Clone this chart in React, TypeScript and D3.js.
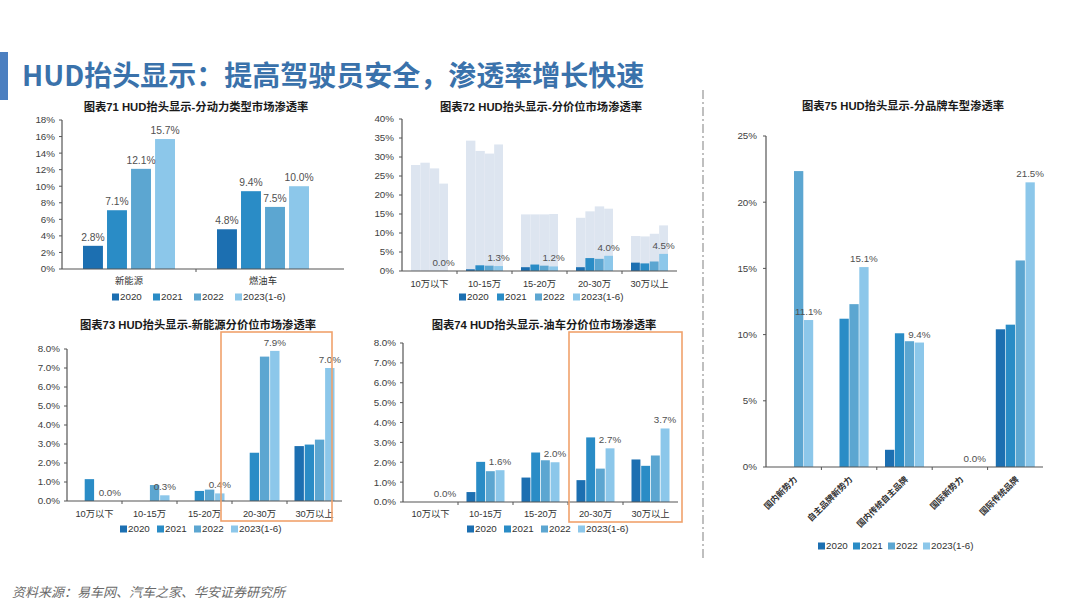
import React from 'react';
import * as d3 from 'd3';

// ---------- data ----------
const SERIES = ['2020', '2021', '2022', '2023(1-6)'];
const COLORS = ['#1c6fb1', '#2a8cc6', '#5ca6d1', '#8cc7ea'];

const c71Cats = ['新能源', '燃油车'];
const c71_2020 = [2.8, 4.8];
const c71_2021 = [7.1, 9.4];
const c71_2022 = [12.1, 7.5];
const c71_2023 = [15.7, 10.0];
const c71Ticks = [0, 2, 4, 6, 8, 10, 12, 14, 16, 18];

const priceCats = ['10万以下', '10-15万', '15-20万', '20-30万', '30万以上'];

const c72_2020 = [0, 0.45, 1.0, 1.0, 2.2];
const c72_2021 = [0, 1.5, 1.7, 3.4, 2.0];
const c72_2022 = [0, 1.4, 1.4, 3.2, 2.5];
const c72_2023 = [0.0, 1.3, 1.2, 4.0, 4.5];
const c72Bg_2020 = [27.9, 34.3, 14.9, 14.0, 9.2];
const c72Bg_2021 = [28.5, 31.6, 14.9, 15.7, 9.1];
const c72Bg_2022 = [27.0, 30.9, 14.9, 17.0, 9.8];
const c72Bg_2023 = [23.0, 33.3, 15.0, 16.4, 12.0];
const c72Ticks = [0, 5, 10, 15, 20, 25, 30, 35, 40];

const c73_2020 = [0, 0, 0, 0, 2.89];
const c73_2021 = [1.15, 0, 0.53, 2.54, 2.97];
const c73_2022 = [0, 0.84, 0.6, 7.6, 3.23];
const c73_2023 = [0.0, 0.3, 0.4, 7.9, 7.0];

const c74_2020 = [0, 0.5, 1.23, 1.1, 2.14];
const c74_2021 = [0, 2.02, 2.49, 3.25, 1.82];
const c74_2022 = [0, 1.55, 2.1, 1.68, 2.34];
const c74_2023 = [0.0, 1.6, 2.0, 2.7, 3.7];
const c7374Ticks = [0, 1, 2, 3, 4, 5, 6, 7, 8];

const c75Cats = ['国内新势力', '自主品牌新势力', '国内传统自主品牌', '国际新势力', '国际传统品牌'];
const c75_2020 = [0, 0, 1.3, 0, 10.4];
const c75_2021 = [0, 11.2, 10.1, 0, 10.75];
const c75_2022 = [22.35, 12.3, 9.5, 0, 15.6];
const c75_2023 = [11.1, 15.1, 9.4, 0.0, 21.5];
const c75Ticks = [0, 5, 10, 15, 20, 25];

// ---------- styles ----------
const FONT = "'Liberation Sans', Arial, 'Noto Sans CJK SC', sans-serif";
const CJK = "'Noto Sans CJK SC', sans-serif";

type ChartProps = {
  title: string;
  titleX: number;
  titleY: number;
  x0: number;
  x1: number;
  yTop: number;
  yBottom: number;
  yMax: number;
  ticks: number[];
  tickFmt: (v: number) => string;
  cats: string[];
  series: number[][];
  labelAll?: boolean;
  labelSize?: number;
  bg?: number[][];
  groupW: number;
  innerPad: number;
  catLabelY: number;
  rotate?: boolean;
  legendX: number;
  legendY: number;
  legendStep: number;
  axisExtend?: number;
  tickLabelGap?: number;
  box?: { fromCat: number; dx0: number; dx1: number; y0: number; y1: number };
};

function BarChart(p: ChartProps) {
  const x = d3.scaleBand<string>().domain(p.cats).range([p.x0, p.x1]).padding(0);
  const bw = x.bandwidth();
  const inner = d3
    .scaleBand<number>()
    .domain(d3.range(p.series.length))
    .range([(bw - p.groupW) / 2, (bw + p.groupW) / 2])
    .paddingInner(p.innerPad);
  const y = d3.scaleLinear().domain([0, p.yMax]).range([p.yBottom, p.yTop]);
  const gap = p.tickLabelGap ?? 7;

  return (
    <g>
      <text
        x={p.titleX}
        y={p.titleY}
        textAnchor="middle"
        fontFamily={FONT}
        fontWeight="bold"
        fontSize={11.3}
        fill="#1a1a1a"
      >
        {p.title}
      </text>

      {/* background bars */}
      {p.bg &&
        p.bg.map((vals, si) =>
          vals.map((v, ci) => {
            const bx = (x(p.cats[ci]) as number) + (inner(si) as number);
            const w = si < p.bg!.length - 1 ? inner.step() : inner.bandwidth();
            return (
              <rect
                key={`bg${si}-${ci}`}
                x={bx}
                y={y(v)}
                width={w}
                height={y(0) - y(v)}
                fill="#dde5f0"
              />
            );
          })
        )}

      {/* bars */}
      {p.series.map((vals, si) =>
        vals.map((v, ci) => {
          const bx = (x(p.cats[ci]) as number) + (inner(si) as number);
          return (
            <rect
              key={`b${si}-${ci}`}
              x={bx}
              y={y(v)}
              width={inner.bandwidth()}
              height={Math.max(0, y(0) - y(v))}
              fill={COLORS[si]}
            />
          );
        })
      )}

      {/* value labels */}
      {p.series.map((vals, si) =>
        p.labelAll || si === p.series.length - 1
          ? vals.map((v, ci) => (
              <text
                key={`l${si}-${ci}`}
                x={(x(p.cats[ci]) as number) + (inner(si) as number) + inner.bandwidth() / 2}
                y={y(v) - 5}
                textAnchor="middle"
                fontFamily={FONT}
                fontSize={p.labelSize ?? 9.8}
                fill="#505050"
              >
                {v.toFixed(1) + '%'}
              </text>
            ))
          : null
      )}

      {/* y axis */}
      <line x1={p.x0} x2={p.x0} y1={p.yTop} y2={p.yBottom} stroke="#555" strokeWidth={1.2} />
      {p.ticks.map((t) => (
        <g key={`t${t}`}>
          <line x1={p.x0 - 3} x2={p.x0} y1={y(t)} y2={y(t)} stroke="#555" />
          <text
            x={p.x0 - gap}
            y={y(t)}
            dy="0.35em"
            textAnchor="end"
            fontFamily={FONT}
            fontSize={9.8}
            fill="#404040"
          >
            {p.tickFmt(t)}
          </text>
        </g>
      ))}

      {/* x axis */}
      <line
        x1={p.x0}
        x2={p.x1 + (p.axisExtend ?? 0)}
        y1={p.yBottom}
        y2={p.yBottom}
        stroke="#555"
        strokeWidth={1.2}
      />
      {p.cats.map((c, i) =>
        i > 0 ? (
          <line
            key={`xt${i}`}
            x1={x(c) as number}
            x2={x(c) as number}
            y1={p.yBottom}
            y2={p.yBottom + 3}
            stroke="#555"
          />
        ) : null
      )}
      {p.cats.map((c) => {
        const cx = (x(c) as number) + bw / 2;
        return p.rotate ? (
          <text
            key={`c${c}`}
            transform={`translate(${cx + 4},${p.catLabelY}) rotate(-45)`}
            textAnchor="end"
            fontFamily={CJK}
            fontWeight="bold"
            fontSize={8.5}
            fill="#333"
          >
            {c}
          </text>
        ) : (
          <text
            key={`c${c}`}
            x={cx}
            y={p.catLabelY}
            textAnchor="middle"
            fontFamily={FONT}
            fontSize={9.3}
            fill="#333"
          >
            {c}
          </text>
        );
      })}

      {/* legend */}
      {SERIES.map((s, i) => (
        <g key={`lg${s}`}>
          <rect
            x={p.legendX + i * p.legendStep}
            y={p.legendY - 3.5}
            width={7}
            height={7}
            fill={COLORS[i]}
          />
          <text
            x={p.legendX + i * p.legendStep + 8}
            y={p.legendY}
            dy="0.35em"
            fontFamily={FONT}
            fontSize={9.8}
            fill="#333"
          >
            {s}
          </text>
        </g>
      ))}

      {p.box && (
        <rect
          x={(x(p.cats[p.box.fromCat]) as number) + p.box.dx0}
          y={p.box.y0}
          width={p.x1 + p.box.dx1 - ((x(p.cats[p.box.fromCat]) as number) + p.box.dx0)}
          height={p.box.y1 - p.box.y0}
          fill="none"
          stroke="#f0a26c"
          strokeWidth={1.6}
        />
      )}
    </g>
  );
}

const pct0 = (v: number) => `${v}%`;
const pct1 = (v: number) => `${v.toFixed(1)}%`;

export default function App() {
  return (
    <svg
      width={1080}
      height={607}
      style={{ position: 'absolute', left: 0, top: 0, background: '#fff' }}
    >
      <rect x={0} y={0} width={1080} height={607} fill="#fff" />
      {/* header */}
      <rect x={0} y={52} width={8} height={48} fill="#4b7fc0" />
      <text x={22} y={86} fontFamily={CJK} fontWeight="bold" fontSize={28} fill="#3a72ab">
        HUD抬头显示：提高驾驶员安全，渗透率增长快速
      </text>

      {/* divider */}
      <line
        x1={703}
        x2={703}
        y1={90}
        y2={558}
        stroke="#b0b0b0"
        strokeWidth={1.6}
        strokeDasharray="9 3 2 3"
      />

      <BarChart
        title="图表71 HUD抬头显示-分动力类型市场渗透率"
        titleX={196}
        titleY={111}
        x0={62}
        x1={330}
        yTop={120}
        yBottom={269}
        yMax={18}
        ticks={c71Ticks}
        tickFmt={pct0}
        cats={c71Cats}
        series={[c71_2020, c71_2021, c71_2022, c71_2023]}
        labelAll
        labelSize={10.3}
        groupW={92}
        innerPad={0.17}
        catLabelY={284}
        legendX={112}
        legendY={297}
        legendStep={41}
        axisExtend={14}
      />

      <BarChart
        title="图表72 HUD抬头显示-分价位市场渗透率"
        titleX={541}
        titleY={111}
        x0={402}
        x1={677}
        yTop={119}
        yBottom={271}
        yMax={40}
        ticks={c72Ticks}
        tickFmt={pct0}
        cats={priceCats}
        series={[c72_2020, c72_2021, c72_2022, c72_2023]}
        bg={[c72Bg_2020, c72Bg_2021, c72Bg_2022, c72Bg_2023]}
        groupW={37}
        innerPad={0.06}
        catLabelY={287}
        legendX={459}
        legendY={297}
        legendStep={38}
        tickLabelGap={8}
      />

      <BarChart
        title="图表73 HUD抬头显示-新能源分价位市场渗透率"
        titleX={198}
        titleY={329}
        x0={67}
        x1={342}
        yTop={349}
        yBottom={501}
        yMax={8}
        ticks={c7374Ticks}
        tickFmt={pct1}
        cats={priceCats}
        series={[c73_2020, c73_2021, c73_2022, c73_2023]}
        groupW={40}
        innerPad={0.08}
        catLabelY={517}
        legendX={120}
        legendY={529}
        legendStep={37}
        box={{ fromCat: 3, dx0: -11, dx1: -10, y0: 332, y1: 521 }}
      />

      <BarChart
        title="图表74 HUD抬头显示-油车分价位市场渗透率"
        titleX={544}
        titleY={329}
        x0={403}
        x1={678}
        yTop={343}
        yBottom={502}
        yMax={8}
        ticks={c7374Ticks}
        tickFmt={pct1}
        cats={priceCats}
        series={[c74_2020, c74_2021, c74_2022, c74_2023]}
        groupW={38}
        innerPad={0.08}
        catLabelY={517}
        legendX={467}
        legendY={529}
        legendStep={37}
        box={{ fromCat: 3, dx0: 1, dx1: 4, y0: 332, y1: 522 }}
      />

      <BarChart
        title="图表75 HUD抬头显示-分品牌车型渗透率"
        titleX={903}
        titleY={110}
        x0={766}
        x1={1043}
        yTop={136}
        yBottom={467}
        yMax={25}
        ticks={c75Ticks}
        tickFmt={pct0}
        cats={c75Cats}
        series={[c75_2020, c75_2021, c75_2022, c75_2023]}
        groupW={39}
        innerPad={0.06}
        catLabelY={480}
        rotate
        legendX={818}
        legendY={546}
        legendStep={35}
        tickLabelGap={9}
      />

      {/* source */}
      <text
        x={12}
        y={597}
        fontFamily={CJK}
        fontStyle="italic"
        fontSize={13}
        fill="#6a6a6a"
      >
        资料来源：易车网、汽车之家、华安证券研究所
      </text>
    </svg>
  );
}
